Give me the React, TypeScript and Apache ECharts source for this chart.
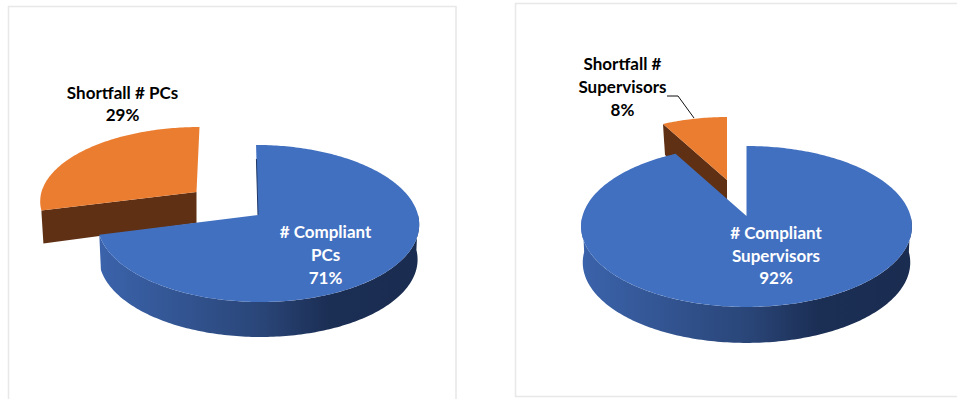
import React, { useEffect, useRef } from "react";
import * as echarts from "echarts";

const pcsNames = ["# Compliant\nPCs", "Shortfall # PCs"];
const pcsValues = [71, 29];
const supervisorNames = ["# Compliant\nSupervisors", "Shortfall #\nSupervisors"];
const supervisorValues = [92, 8];

const BLUE = "#4270C0";
const ORANGE = "#EB7D31";
const ORANGE_WALL = "#5F3014";
const FONT = 'bold 17px Lato, "Open Sans", sans-serif';

const wallGradient = {
  type: "linear", x: 0, y: 0, x2: 1, y2: 0,
  colorStops: [
    { offset: 0, color: "#3B63AB" },
    { offset: 0.5, color: "#2A4679" },
    { offset: 0.72, color: "#1B2E54" },
    { offset: 1, color: "#1A2C50" },
  ],
};

// Geometry of each drawn slice: apex, projected radii, perspective, skew, thickness
const pies = [
  {
    values: pcsValues,
    geo: [
      { ax: 258, ay: 215, rx: 160, ry: 77.6, k: 0.108, skew: 0.028, depth: 35 },
      { ax: 196.5, ay: 192, rx: 155, ry: 72, k: 0.108, skew: -0.046, depth: 32 },
    ],
    edgeLine: true,
  },
  {
    values: supervisorValues,
    geo: [
      { ax: 746.5, ay: 216, rx: 164, ry: 79.1, k: 0.13, skew: 0, depth: 36 },
      { ax: 727, ay: 180, rx: 148, ry: 71.2, k: 0.13, skew: 0, depth: 30 },
    ],
    edgeLine: false,
  },
];

function project(g: any, deg: number, scale = 1, dy = 0): number[] {
  const t = (deg * Math.PI) / 180;
  const X = Math.sin(t);
  const Y = Math.cos(t);
  const w = 1 + g.k * Y;
  const y = g.ay - (g.ry * Y) / w;
  const x = g.ax + (g.rx * scale * X) / w + g.skew * (y - g.ay);
  return [x, y + dy];
}

function arc(g: any, from: number, to: number, scale = 1, dy = 0): number[][] {
  const pts: number[][] = [];
  const n = Math.max(2, Math.ceil(Math.abs(to - from)));
  for (let i = 0; i <= n; i++) pts.push(project(g, from + ((to - from) * i) / n, scale, dy));
  return pts;
}

function sliceRows(values: number[]): number[][] {
  const total = values.reduce((a, b) => a + b, 0);
  let acc = 0;
  return values.map((v) => {
    const row = [(acc / total) * 360, ((acc + v) / total) * 360, v];
    acc += v;
    return row;
  });
}

function pieSeries(pie: any) {
  const rows = sliceRows(pie.values);
  // the shortfall slice is listed first so the main body covers it
  const data = [
    { value: rows[1], slice: 1 },
    { value: rows[0], slice: 0 },
  ];
  return {
    type: "custom",
    coordinateSystem: "none",
    silent: true,
    data: data.map((d) => d.value),
    renderItem: (params: any, api: any) => {
      const slice = data[params.dataIndex].slice;
      const g = pie.geo[slice];
      const start = api.value(0);
      const end = api.value(1);
      const children: any[] = [];
      if (slice === 0) {
        const from = Math.max(start, 90);
        const to = Math.min(end, 270);
        const wall = [...arc(g, from, to), ...arc(g, to, from, 0.99, g.depth)];
        children.push({ type: "polygon", shape: { points: wall }, style: { fill: wallGradient } });
      } else {
        const p = project(g, start);
        const face = [[g.ax, g.ay], p, [p[0] + 2, p[1] + g.depth + 1], [g.ax, g.ay + g.depth - 1]];
        children.push({ type: "polygon", shape: { points: face }, style: { fill: ORANGE_WALL } });
      }
      const top = [[g.ax, g.ay], ...arc(g, start, end)];
      children.push({
        type: "polygon",
        shape: { points: top },
        style: { fill: slice === 0 ? BLUE : ORANGE },
      });
      if (slice === 0 && pie.edgeLine) {
        const e = project(g, start);
        children.push({
          type: "line",
          shape: { x1: e[0] + (g.ax - e[0]) * 0.2, y1: e[1] + (g.ay - e[1]) * 0.2, x2: g.ax, y2: g.ay },
          style: { stroke: "#1F3864", lineWidth: 1 },
        });
      }
      return { type: "group", children };
    },
  };
}

function label(text: string, x: number, y: number, fill: string) {
  return {
    type: "text",
    z: 10,
    x,
    y,
    style: { text, fill, font: FONT, align: "center", verticalAlign: "middle", textAlign: "center", textVerticalAlign: "middle", lineHeight: 22.7 },
  };
}

function panel(x: number, y: number, width: number, height: number) {
  return {
    type: "rect",
    z: -1,
    shape: { x, y, width, height },
    style: { fill: "#fff", stroke: "#E8E8E8", lineWidth: 1.5 },
  };
}

export default function App() {
  const ref = useRef<HTMLDivElement>(null);
  useEffect(() => {
    const chart = echarts.init(ref.current!, undefined, { renderer: "svg" });
    chart.setOption({
      animation: false,
      backgroundColor: "#fff",
      series: pies.map(pieSeries),
      graphic: [
        panel(8.5, 6.5, 447.5, 400),
        panel(515.5, 3.5, 460, 393),
        {
          type: "polyline",
          z: 9,
          shape: { points: [[667, 96], [678, 96], [694, 118]] },
          style: { stroke: "#111", lineWidth: 1, fill: "none" },
        },
        label(`${pcsNames[1]}\n${pcsValues[1]}%`, 122.5, 103.5, "#000"),
        label(`${pcsNames[0]}\n${pcsValues[0]}%`, 325.5, 254.5, "#fff"),
        label(`${supervisorNames[1]}\n${supervisorValues[1]}%`, 622.5, 86.5, "#000"),
        label(`${supervisorNames[0]}\n${supervisorValues[0]}%`, 776, 255, "#fff"),
      ],
    });
    return () => chart.dispose();
  }, []);
  return <div ref={ref} style={{ position: "fixed", left: 0, top: 0, width: 957, height: 399 }} />;
}
